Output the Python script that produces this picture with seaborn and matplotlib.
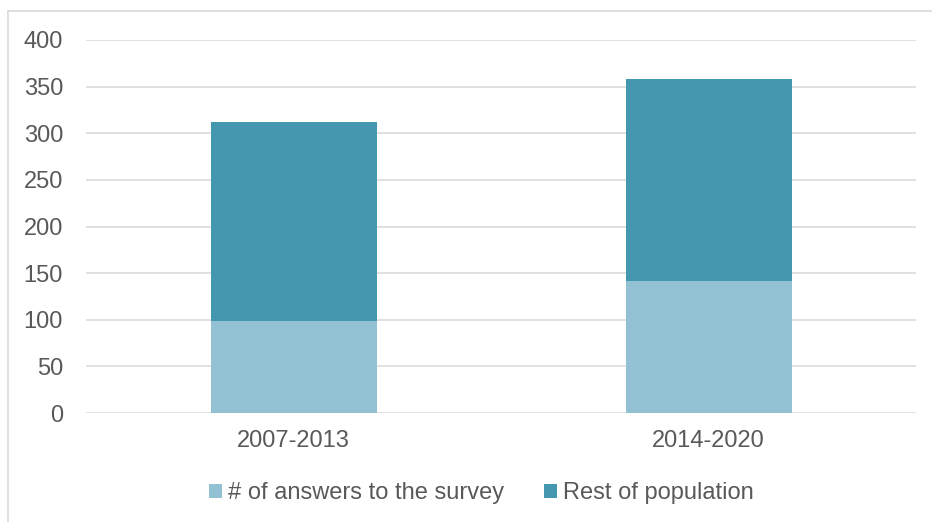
import matplotlib
matplotlib.use("Agg")
import matplotlib.pyplot as plt
import seaborn as sns
import pandas as pd
from matplotlib.lines import Line2D
from matplotlib.patches import Patch

periods = ["2007-2013", "2014-2020"]
answers = [99, 142]
rest = [213, 216]
series_names = ["# of answers to the survey", "Rest of population"]
yticks = [0, 50, 100, 150, 200, 250, 300, 350, 400]

light = "#92C1D4"
dark = "#4398B0"
text_color = "#595959"
grid_color = "#D9D9D9"
FS = 17

sns.set_theme(style="white")
plt.rcParams["font.family"] = ["Liberation Sans", "DejaVu Sans"]

W, H = 932, 522
fig = plt.figure(figsize=(W / 100, H / 100), dpi=100)
ax = fig.add_axes([86 / W, (H - 413) / H, (916 - 86) / W, (413 - 40) / H])

df = pd.DataFrame({
    "period": periods,
    "answers": answers,
    "total": [a + r for a, r in zip(answers, rest)],
})

sns.barplot(data=df, x="period", y="total", color=dark, width=0.4,
            saturation=1, ax=ax, zorder=3, linewidth=0)
sns.barplot(data=df, x="period", y="answers", color=light, width=0.4,
            saturation=1, ax=ax, zorder=3, linewidth=0)

ax.set_xlim(-0.5, 1.5)
ax.set_ylim(0, 400)
ax.set_yticks(yticks)
ax.set_yticklabels([str(v) for v in yticks])
ax.yaxis.grid(True, color=grid_color, linewidth=1.1, zorder=0)
ax.xaxis.grid(False)
ax.set_axisbelow(True)
for s in ax.spines.values():
    s.set_visible(False)
ax.set_xlabel("")
ax.set_ylabel("")
ax.tick_params(axis="y", length=0, pad=16.5, labelsize=FS, labelcolor=text_color)
ax.tick_params(axis="x", length=0, pad=12.5, labelsize=FS, labelcolor=text_color)

handles = [Patch(facecolor=light, edgecolor="none"),
           Patch(facecolor=dark, edgecolor="none")]
fig.legend(handles, series_names, loc="center", bbox_to_anchor=(481.5 / W, (H - 493) / H),
           ncol=2, frameon=False, fontsize=FS, labelcolor=text_color,
           handlelength=0.55, handleheight=0.55, handletextpad=0.25,
           columnspacing=1.7, borderpad=0, borderaxespad=0)

# outer frame
fig.add_artist(Line2D([7.5 / W, 1.0], [(H - 10.5) / H, (H - 10.5) / H],
                      transform=fig.transFigure, color=grid_color, linewidth=1.2))
fig.add_artist(Line2D([7.5 / W, 7.5 / W], [0, (H - 10.5) / H],
                      transform=fig.transFigure, color=grid_color, linewidth=1.2))

fig.savefig("out.png", dpi=100)
